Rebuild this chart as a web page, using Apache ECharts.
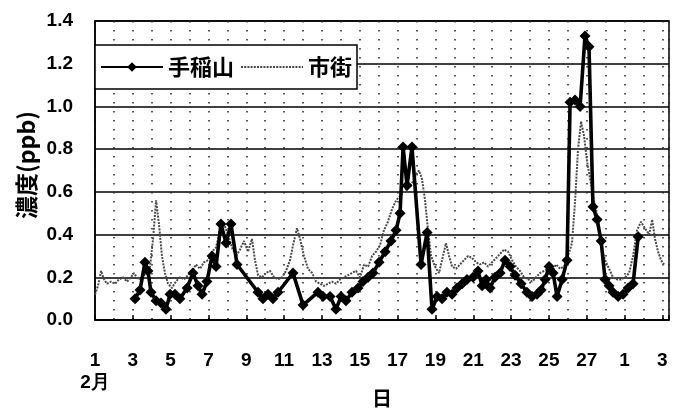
<!DOCTYPE html>
<html>
<head>
<meta charset="utf-8">
<script src="https://cdn.jsdelivr.net/npm/echarts@6/dist/echarts.min.js"></script>
<style>
  html, body { margin: 0; padding: 0; background: #fff; }
  #chart { width: 685px; height: 414px; }
</style>
</head>
<body>
<div id="chart"></div>
<script>
// Days elapsed since 1 Feb 00:00 and concentration (ppb)
const teineDays = [2.12, 2.38, 2.64, 2.80, 2.96, 3.23, 3.49, 3.75, 3.97, 4.23, 4.49, 4.87, 5.18, 5.45, 5.66, 5.92,
  6.19, 6.40, 6.66, 6.93, 7.19, 7.51, 8.62, 8.88, 9.15, 9.41, 9.68, 10.47, 11.00, 11.79, 12.06, 12.43, 12.74,
  13.01, 13.27, 13.59, 13.91, 14.17, 14.44, 14.70, 15.02, 15.34, 15.65, 15.92, 16.13, 16.29, 16.50, 16.76,
  17.24, 17.56, 17.82, 18.09, 18.35, 18.61, 18.88, 19.14, 19.41, 19.67, 19.99, 20.25, 20.47, 20.68, 20.89,
  21.15, 21.42, 21.68, 21.95, 22.21, 22.53, 22.84, 23.11, 23.37, 23.59, 23.80, 24.01, 24.22, 24.43, 24.70,
  24.96, 25.12, 25.38, 25.65, 25.91, 26.12, 26.33, 26.55, 26.76, 26.97, 27.18, 27.39, 27.66, 27.92, 28.19,
  28.45, 28.72];
const teineValues = [0.10, 0.14, 0.27, 0.23, 0.13, 0.09, 0.08, 0.05, 0.12, 0.12, 0.10, 0.15, 0.22, 0.16, 0.12, 0.18,
  0.30, 0.25, 0.45, 0.36, 0.45, 0.26, 0.13, 0.10, 0.12, 0.10, 0.13, 0.22, 0.07, 0.13, 0.11, 0.11, 0.05,
  0.11, 0.09, 0.13, 0.15, 0.18, 0.20, 0.22, 0.27, 0.32, 0.37, 0.42, 0.50, 0.81, 0.63, 0.81,
  0.26, 0.41, 0.05, 0.11, 0.10, 0.13, 0.12, 0.15, 0.17, 0.19, 0.20, 0.23, 0.16, 0.19, 0.15,
  0.20, 0.22, 0.28, 0.25, 0.21, 0.17, 0.13, 0.11, 0.12, 0.14, 0.19, 0.25, 0.22, 0.11, 0.19,
  0.28, 1.02, 1.03, 1.00, 1.33, 1.28, 0.53, 0.47, 0.37, 0.19, 0.16, 0.13, 0.11, 0.12, 0.15,
  0.17, 0.39];

const shigaiDays = [0.00, 0.16, 0.32, 0.48, 0.63, 0.85, 1.06, 1.27, 1.48, 1.69, 1.90, 2.06, 2.27, 2.49, 2.70, 2.91,
  3.07, 3.23, 3.38, 3.54, 3.70, 3.86, 4.07, 4.28, 4.49, 4.71, 4.92, 5.13, 5.34, 5.55, 5.76, 5.98, 6.19, 6.40,
  6.61, 6.82, 7.03, 7.24, 7.46, 7.67, 7.88, 8.09, 8.30, 8.46, 8.62, 8.83, 9.04, 9.25, 9.47, 9.68, 9.89, 10.10,
  10.31, 10.47, 10.68, 10.84, 11.05, 11.26, 11.48, 11.69, 11.90, 12.11, 12.32, 12.53, 12.74, 12.96, 13.17,
  13.38, 13.59, 13.80, 14.01, 14.23, 14.44, 14.65, 14.86, 15.07, 15.28, 15.49, 15.71, 15.92, 16.13, 16.34,
  16.55, 16.76, 16.97, 17.13, 17.29, 17.45, 17.61, 17.77, 17.98, 18.19, 18.40, 18.56, 18.72, 18.88, 19.09,
  19.30, 19.51, 19.73, 19.94, 20.15, 20.36, 20.57, 20.78, 20.99, 21.21, 21.42, 21.63, 21.84, 22.05, 22.26,
  22.47, 22.69, 22.90, 23.11, 23.32, 23.53, 23.74, 23.96, 24.17, 24.38, 24.59, 24.80, 25.01, 25.22, 25.38,
  25.54, 25.70, 25.86, 26.02, 26.18, 26.33, 26.49, 26.65, 26.81, 26.97, 27.18, 27.39, 27.60, 27.82, 28.03,
  28.24, 28.45, 28.66, 28.87, 29.08, 29.30, 29.46, 29.61, 29.77, 29.93, 30.09];
const shigaiValues = [0.12, 0.16, 0.23, 0.19, 0.17, 0.18, 0.17, 0.19, 0.20, 0.18, 0.20, 0.22, 0.19, 0.20, 0.22, 0.25,
  0.38, 0.56, 0.45, 0.30, 0.22, 0.17, 0.15, 0.18, 0.20, 0.19, 0.21, 0.23, 0.26, 0.24, 0.27, 0.28, 0.32, 0.34,
  0.42, 0.45, 0.40, 0.34, 0.30, 0.33, 0.37, 0.32, 0.38, 0.28, 0.21, 0.20, 0.22, 0.23, 0.20, 0.19, 0.20, 0.23,
  0.28, 0.35, 0.43, 0.38, 0.30, 0.24, 0.22, 0.18, 0.17, 0.16, 0.17, 0.18, 0.17, 0.19, 0.20,
  0.21, 0.22, 0.23, 0.20, 0.26, 0.25, 0.30, 0.32, 0.35, 0.42, 0.46, 0.52, 0.56, 0.58, 0.60,
  0.62, 0.64, 0.68, 0.70, 0.66, 0.56, 0.42, 0.30, 0.25, 0.22, 0.30, 0.36, 0.30, 0.25, 0.24,
  0.26, 0.28, 0.30, 0.29, 0.27, 0.26, 0.27, 0.25, 0.27, 0.29, 0.31, 0.33, 0.32, 0.28, 0.25,
  0.23, 0.20, 0.19, 0.18, 0.20, 0.22, 0.23, 0.24, 0.23, 0.26, 0.24, 0.25, 0.30, 0.36, 0.55,
  0.80, 0.93, 0.86, 0.74, 0.66, 0.58, 0.52, 0.42, 0.33, 0.28, 0.24, 0.20, 0.19, 0.19, 0.20,
  0.22, 0.30, 0.42, 0.46, 0.43, 0.40, 0.47, 0.38, 0.32, 0.28, 0.26];

// Tick labels every second day: Feb 1 ... Feb 27, Mar 1, Mar 3
const xTickLabels = ['1\n2月', '3', '5', '7', '9', '11', '13', '15', '17', '19', '21', '23', '25', '27', '1', '3'];

const seriesNames = ['手稲山', '市街'];

const numFont = '"Liberation Sans Narrow", "Liberation Sans", Arial, sans-serif';
const cjkFont = '"Noto Sans CJK JP", "Noto Sans CJK SC", sans-serif';

const zip = (xs, ys) => xs.map((x, i) => [x, ys[i]]);

const chart = echarts.init(document.getElementById('chart'), null, { renderer: 'canvas' });
chart.setOption({
  animation: false,
  backgroundColor: '#fff',
  grid: {
    left: 95, right: 16, top: 21, bottom: 94,
    outerBoundsMode: 'none',
    containLabel: false,
    show: true, borderColor: '#000', borderWidth: 1.5, backgroundColor: 'transparent'
  },
  legend: {
    data: [
      { name: seriesNames[0] },
      { name: seriesNames[1], itemStyle: { opacity: 0 } }
    ],
    left: 95, top: 45,
    orient: 'horizontal',
    backgroundColor: '#fff',
    borderColor: '#000', borderWidth: 1.5, borderRadius: 0,
    padding: [11, 5, 11, 5],
    itemWidth: 62, itemHeight: 12, itemGap: 6,
    textStyle: { fontFamily: cjkFont, fontSize: 22, fontWeight: 'bold', color: '#000' }
  },
  xAxis: {
    type: 'value',
    min: 0, max: 30.35, interval: 2,
    name: '日',
    nameLocation: 'middle', nameGap: 68, nameMoveOverlap: false,
    nameTextStyle: { fontFamily: cjkFont, fontSize: 20, fontWeight: 'bold', color: '#000' },
    axisLine: { show: true, lineStyle: { color: '#000', width: 1.5 } },
    axisTick: { show: true, inside: true, length: 5, lineStyle: { color: '#000', width: 1.5 } },
    minorTick: { show: false, splitNumber: 2 },
    axisLabel: {
      margin: 30,
      fontFamily: numFont, fontSize: 19, fontWeight: 'bold', color: '#000',
      lineHeight: 22,
      formatter: v => {
        const i = Math.round(v / 2);
        return Math.abs(v - i * 2) < 1e-6 && i < xTickLabels.length ? xTickLabels[i] : '';
      }
    },
    splitLine: { show: true, lineStyle: { color: '#222', width: 1.5, type: [1.5, 7.5] } },
    minorSplitLine: { show: true, lineStyle: { color: '#222', width: 1.5, type: [1.5, 7.5] } }
  },
  yAxis: {
    type: 'value',
    min: 0, max: 1.4, interval: 0.2,
    name: '濃度(ppb)',
    nameLocation: 'middle', nameRotate: 90, nameGap: 57, nameMoveOverlap: false,
    nameTextStyle: {
      fontFamily: cjkFont, fontSize: 23, fontWeight: 'bold', color: '#000',
      padding: [0, 0, 0, 11]
    },
    axisLine: { show: true, lineStyle: { color: '#000', width: 1.5 } },
    axisTick: { show: false },
    axisLabel: {
      margin: 22,
      fontFamily: numFont, fontSize: 19, fontWeight: 'bold', color: '#000',
      formatter: v => v.toFixed(1)
    },
    splitLine: { show: true, lineStyle: { color: '#000', width: 1.5 } }
  },
  series: [
    {
      name: seriesNames[0],
      type: 'line',
      data: zip(teineDays, teineValues),
      symbol: 'diamond', symbolSize: 11, showSymbol: true,
      itemStyle: { color: '#000' },
      lineStyle: { color: '#000', width: 3.6 },
      z: 3
    },
    {
      name: seriesNames[1],
      type: 'line',
      data: zip(shigaiDays, shigaiValues),
      symbol: 'none',
      itemStyle: { color: '#555' },
      lineStyle: { color: '#4a4a4a', width: 2, type: [2, 1.2] },
      z: 2
    }
  ]
});
</script>
</body>
</html>
